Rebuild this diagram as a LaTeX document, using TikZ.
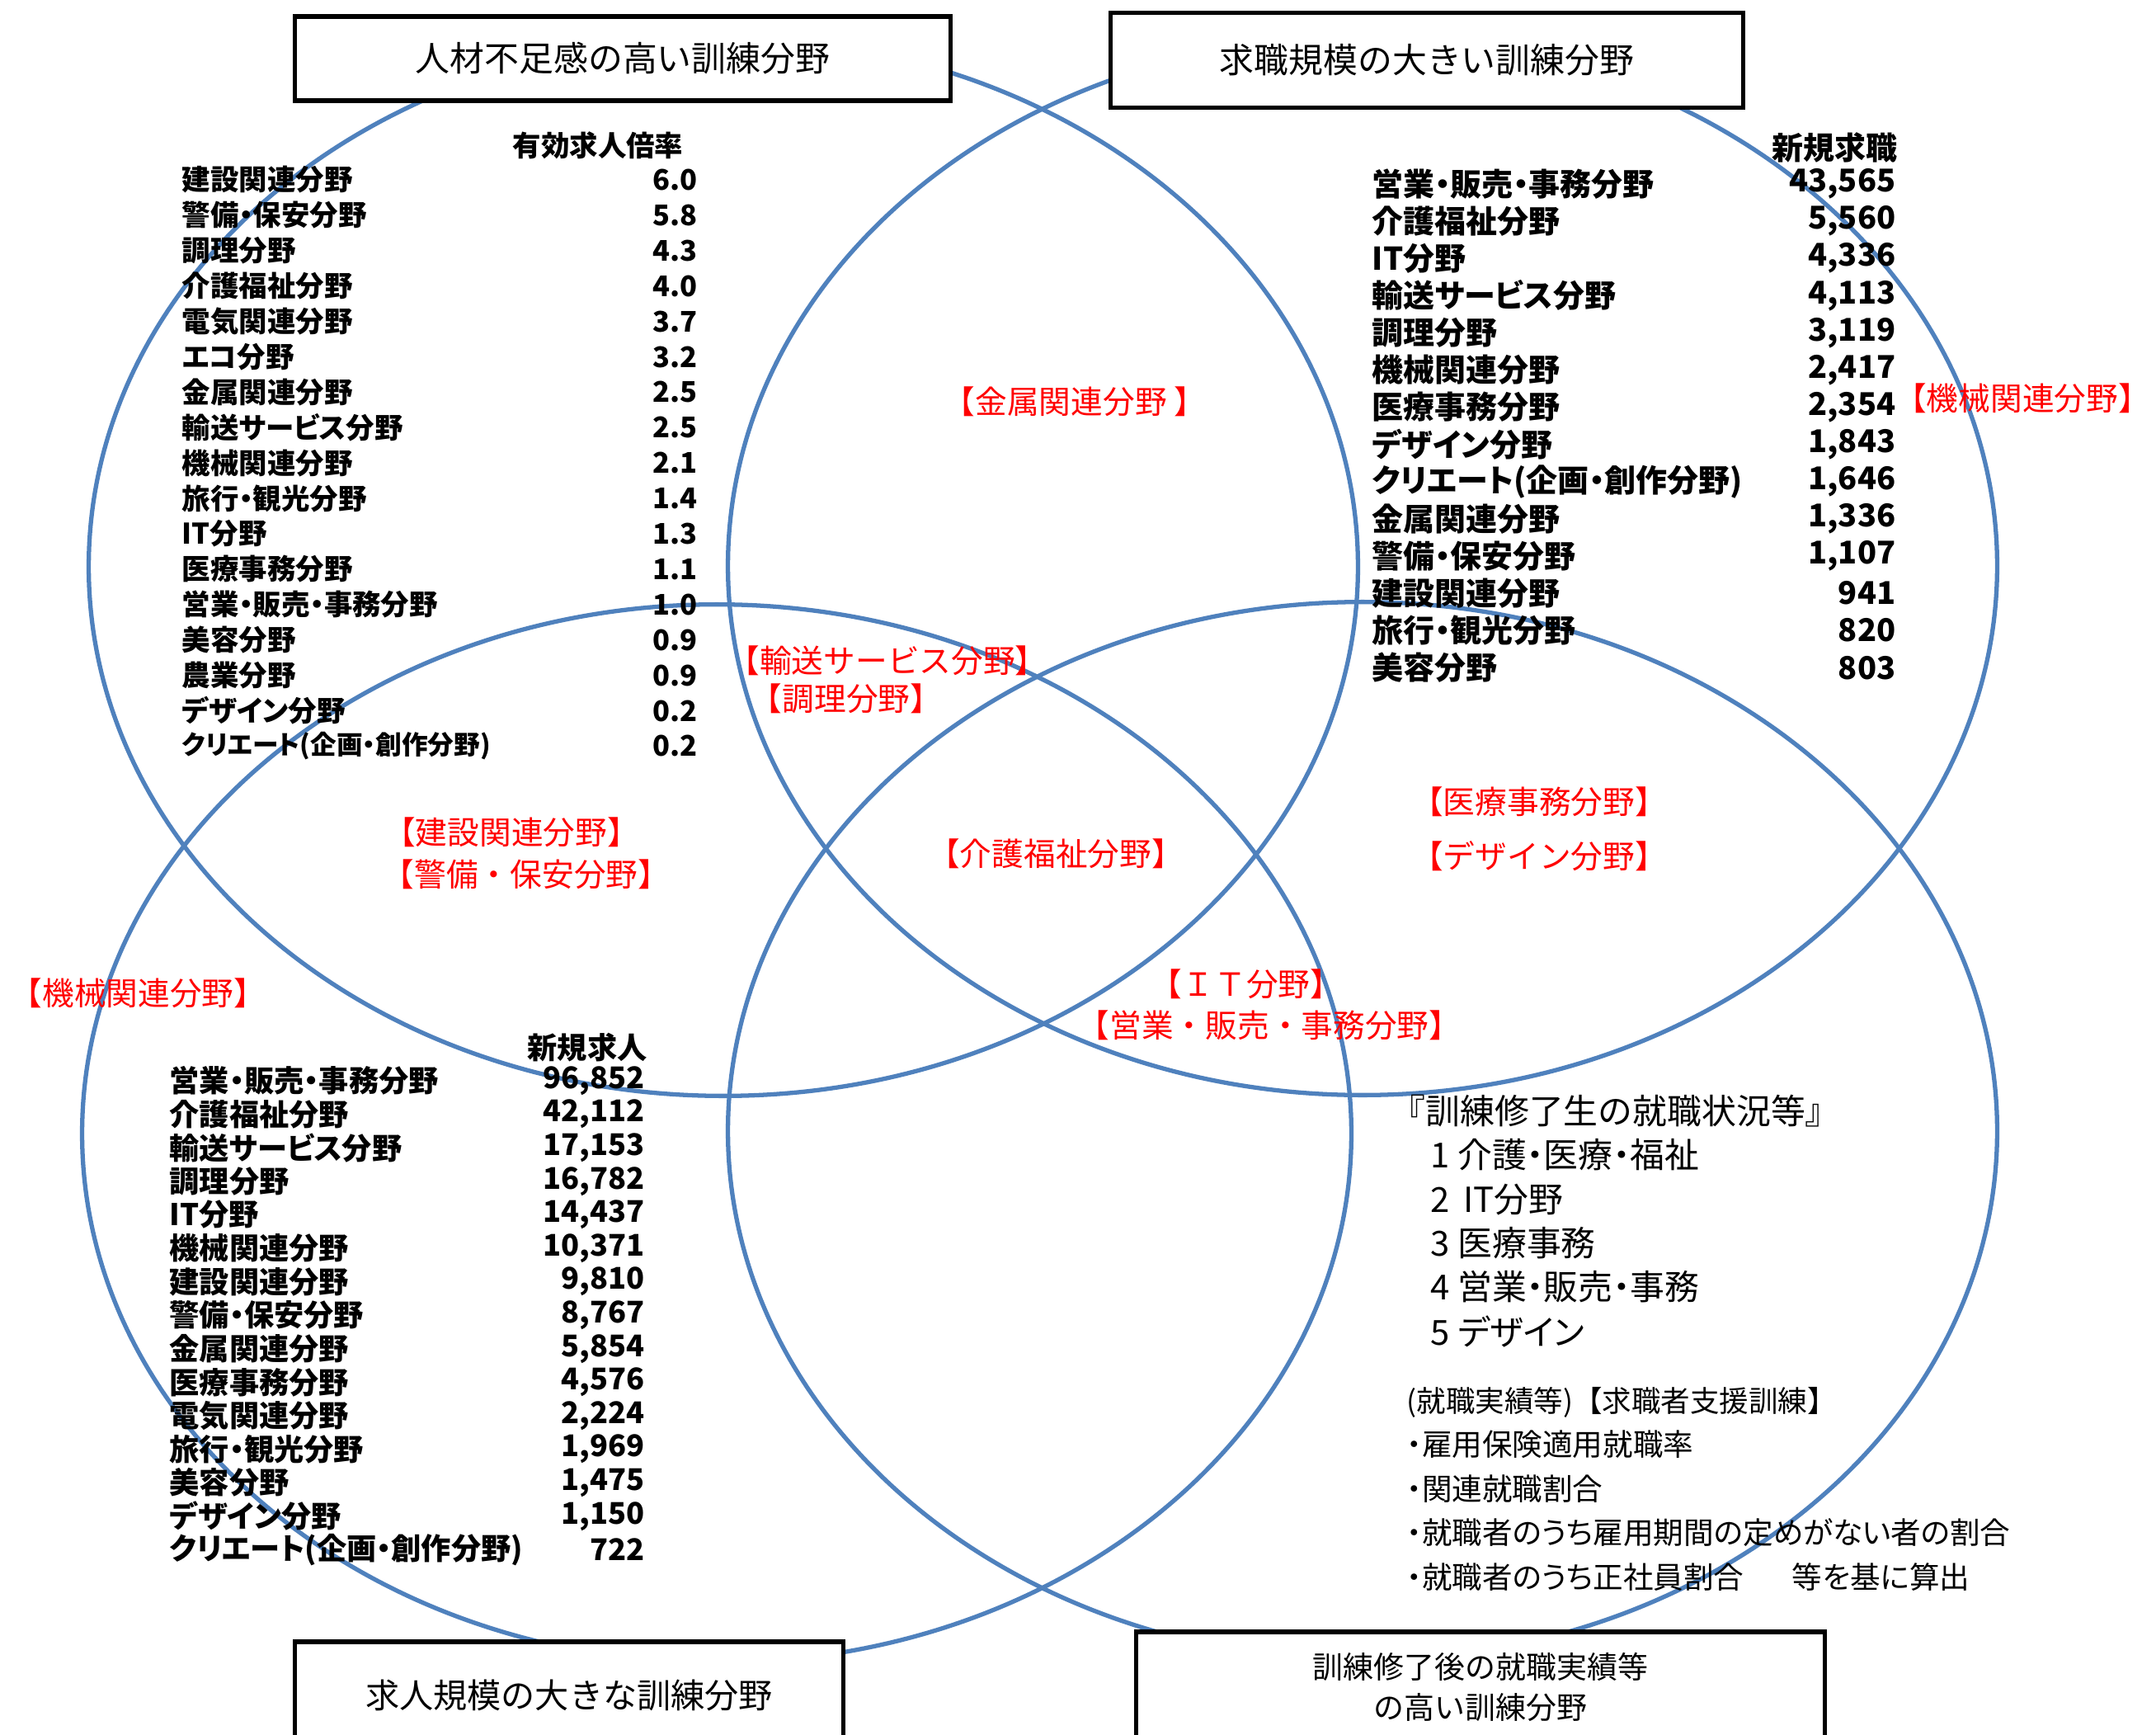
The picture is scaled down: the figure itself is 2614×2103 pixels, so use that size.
\documentclass[tikz,border=0pt]{standalone}
\usepackage{fontspec}
\setmainfont{Noto Sans CJK JP}
\newfontfamily\jpp{Noto Sans CJK JP}[RawFeature=+palt]
\definecolor{vblue}{HTML}{4F81BD}
\definecolor{vred}{HTML}{FF0000}
\tikzset{
  venn/.style={draw=vblue, line width=1.5pt},
  tbox/.style={draw=black, line width=1.5pt, fill=white, inner sep=0pt},
  ttl/.style={font=\fontsize{11.9pt}{14pt}\selectfont},
  lblA/.style={anchor=west, inner sep=0pt, font=\jpp\bfseries\fontsize{9.8pt}{12pt}\selectfont},
  numA/.style={anchor=east, inner sep=0pt, font=\jpp\bfseries\fontsize{9.8pt}{12pt}\selectfont},
  lblB/.style={anchor=west, inner sep=0pt, font=\jpp\bfseries\fontsize{10.8pt}{13pt}\selectfont},
  numB/.style={anchor=east, inner sep=0pt, font=\jpp\bfseries\fontsize{10.8pt}{13pt}\selectfont},
  lblC/.style={anchor=west, inner sep=0pt, font=\jpp\bfseries\fontsize{10.3pt}{12pt}\selectfont},
  numC/.style={anchor=east, inner sep=0pt, font=\jpp\bfseries\fontsize{10.3pt}{12pt}\selectfont},
  redlbl/.style={inner sep=0pt, text=vred, font=\fontsize{11pt}{13pt}\selectfont},
  notehead/.style={anchor=west, inner sep=0pt, font=\fontsize{11.9pt}{14pt}\selectfont},
  noteitem/.style={anchor=west, inner sep=0pt, font=\jpp\fontsize{11.9pt}{14pt}\selectfont},
  notesmall/.style={anchor=west, inner sep=0pt, font=\jpp\fontsize{10.4pt}{12pt}\selectfont},
}
\begin{document}
\begin{tikzpicture}[x=0.01cm, y=-0.01cm]
\clip (0,0) rectangle (2614,2103);
\fill[white] (0,0) rectangle (2614,2103);

% Venn ellipses
\draw[venn] (877,687) ellipse [x radius=7.69cm, y radius=6.41cm];
\draw[venn] (1652,686) ellipse [x radius=7.69cm, y radius=6.41cm];
\draw[venn] (869,1374) ellipse [x radius=7.69cm, y radius=6.41cm];
\draw[venn] (1652,1371) ellipse [x radius=7.69cm, y radius=6.41cm];

% title boxes
\node[tbox, ttl, minimum width=7.94cm, minimum height=1.02cm] (box1) at (755,71) {人材不足感の高い訓練分野};
\node[tbox, ttl, minimum width=7.66cm, minimum height=1.15cm] (box2) at (1730,73) {求職規模の大きい訓練分野};
\node[tbox, ttl, font=\fontsize{11.7pt}{14pt}\selectfont, minimum width=6.65cm, minimum height=1.30cm] (box3) at (690,2055) {求人規模の大きな訓練分野};
\node[tbox, align=center, font=\fontsize{10.5pt}{13.9pt}\selectfont, minimum width=8.34cm, minimum height=1.34cm] (box4) at (1795,2045) {訓練修了後の就職実績等\\の高い訓練分野};

% table: 有効求人倍率
\node[inner sep=0pt, font=\jpp\bfseries\fontsize{9.8pt}{12pt}\selectfont] (hA) at (725,176) {有効求人倍率};
\foreach \lab/\num [count=\i] in {
  {建設関連分野}/{6.0},{警備・保安分野}/{5.8},{調理分野}/{4.3},{介護福祉分野}/{4.0},
  {電気関連分野}/{3.7},{エコ分野}/{3.2},{金属関連分野}/{2.5},{輸送サービス分野}/{2.5},
  {機械関連分野}/{2.1},{旅行・観光分野}/{1.4},{IT分野}/{1.3},{医療事務分野}/{1.1},
  {営業・販売・事務分野}/{1.0},{美容分野}/{0.9},{農業分野}/{0.9},{デザイン分野}/{0.2}}{
  \node[lblA] (a-l\i) at (220,{218+(\i-1)*42.9}) {\lab};
  \node[numA] (a-n\i) at (846,{218+(\i-1)*42.9}) {\num};
}
\node[lblA, font=\jpp\bfseries\fontsize{9pt}{11pt}\selectfont] (a-l17) at (220,{218+16*42.9}) {クリエート(企画・創作分野)};
\node[numA] (a-n17) at (846,{218+16*42.9}) {0.2};

% table: 新規求職
\node[inner sep=0pt, font=\jpp\bfseries\fontsize{10.8pt}{13pt}\selectfont] (hB) at (2224,179) {新規求職};
\foreach \lab/\num [count=\i] in {
  {営業・販売・事務分野}/{43,565},{介護福祉分野}/{5,560},{IT分野}/{4,336},
  {輸送サービス分野}/{4,113},{調理分野}/{3,119},{機械関連分野}/{2,417},
  {医療事務分野}/{2,354},{デザイン分野}/{1,843},{クリエート(企画・創作分野)}/{1,646},
  {金属関連分野}/{1,336},{警備・保安分野}/{1,107},{建設関連分野}/{941},
  {旅行・観光分野}/{820},{美容分野}/{803}}{
  \node[lblB] (b-l\i) at (1663,{223+(\i-1)*45.1}) {\lab};
  \node[numB] (b-n\i) at (2299,{223+(\i-1)*45.1}) {\num};
}

% table: 新規求人
\node[inner sep=0pt, font=\jpp\bfseries\fontsize{10.3pt}{12pt}\selectfont] (hC) at (712,1270) {新規求人};
\foreach \lab/\num [count=\i] in {
  {営業・販売・事務分野}/{96,852},{介護福祉分野}/{42,112},{輸送サービス分野}/{17,153},
  {調理分野}/{16,782},{IT分野}/{14,437},{機械関連分野}/{10,371},{建設関連分野}/{9,810},
  {警備・保安分野}/{8,767},{金属関連分野}/{5,854},{医療事務分野}/{4,576},
  {電気関連分野}/{2,224},{旅行・観光分野}/{1,969},{美容分野}/{1,475},
  {デザイン分野}/{1,150},{クリエート(企画・創作分野)}/{722}}{
  \node[lblC] (c-l\i) at (205,{1310+(\i-1)*40.6}) {\lab};
  \node[numC] (c-n\i) at (782,{1310+(\i-1)*40.6}) {\num};
}

% red region labels
\node[redlbl] (r1) at (1303,487) {【金属関連分野 】};
\node[redlbl] (r2) at (2452,483) {【機械関連分野】};
\node[redlbl] (r3) at (1076,801) {【輸送サービス分野】};
\node[redlbl] (r4) at (1026,847) {【調理分野】};
\node[redlbl] (r5) at (620,1009) {【建設関連分野】};
\node[redlbl] (r6) at (638,1060) {【警備・保安分野】};
\node[redlbl, anchor=west] (r7) at (12,1204) {【機械関連分野】};
\node[redlbl] (r8) at (1280,1035) {【介護福祉分野】};
\node[redlbl] (r9) at (1866,972) {【医療事務分野】};
\node[redlbl] (r10) at (1866,1038) {【デザイン分野】};
\node[redlbl] (r11) at (1511,1193) {【ＩＴ分野】};
\node[redlbl] (r12) at (1539,1243) {【営業・販売・事務分野】};

% notes
\node[notehead] (n0) at (1686,1347) {『訓練修了生の就職状況等』};
\node[noteitem] (n1) at (1734,1400) {1 介護・医療・福祉};
\node[noteitem] (n2) at (1734,1454) {2\hspace{0.4em}IT分野};
\node[noteitem] (n3) at (1734,1507) {3 医療事務};
\node[noteitem] (n4) at (1734,1560) {4 営業・販売・事務};
\node[noteitem] (n5) at (1734,1614) {5 デザイン};
\node[anchor=west, inner sep=0pt, font=\fontsize{10.1pt}{12pt}\selectfont] (m0) at (1705,1700) {(就職実績等)【求職者支援訓練】};
\node[notesmall] (m1) at (1705,1751) {・雇用保険適用就職率};
\node[notesmall] (m2) at (1705,1805) {・関連就職割合};
\node[notesmall] (m3) at (1705,1858) {・就職者のうち雇用期間の定めがない者の割合};
\node[notesmall] (m4) at (1705,1912) {・就職者のうち正社員割合\hspace{1.6em}等を基に算出};
\end{tikzpicture}
\end{document}
